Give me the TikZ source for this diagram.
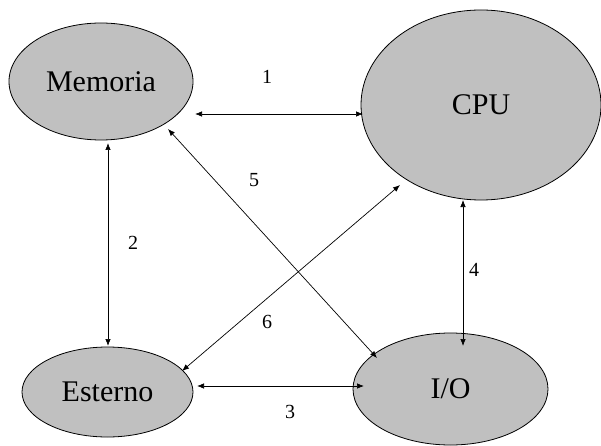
\documentclass[tikz,border=0pt]{standalone}
\usepackage{fontspec}
\setmainfont{Liberation Serif}
\usetikzlibrary{shapes.geometric,arrows.meta}
\definecolor{unitfill}{HTML}{C0C0C0}
\begin{document}
\begin{tikzpicture}[x=1pt,y=-1pt,
  unit/.style={ellipse,draw=black,line width=0.8pt,fill=unitfill,inner sep=0pt,
    font=\fontsize{30}{30}\selectfont},
  link/.style={line width=0.7pt,{Latex[length=7pt,width=5.5pt]}-{Latex[length=7pt,width=5.5pt]}},
  tag/.style={font=\fontsize{20}{20}\selectfont,inner sep=0pt}]
\useasboundingbox (0,0) rectangle (601,446);
% the four units
\node[unit,minimum width=184pt,minimum height=117pt] (mem) at (101,81.5) {Memoria};
\node[unit,minimum width=240pt,minimum height=190pt] (cpu) at (481,105) {CPU};
\node[unit,minimum width=171pt,minimum height=90pt] (est) at (107.5,392) {Esterno};
\node[unit,minimum width=195pt,minimum height=112pt] (io) at (450.5,389) {I/O};
% connections between units
\draw[link] ([shift={(94,32.5)}]mem.center) -- ([shift={(-118,9)}]cpu.center);
\draw[link] ([shift={(7,61.5)}]mem.center) -- ([shift={(0.5,-46)}]est.center);
\draw[link] ([shift={(89.5,-6)}]est.center) -- ([shift={(-86.5,-3)}]io.center);
\draw[link] ([shift={(-18,95)}]cpu.center) -- ([shift={(12.5,-43)}]io.center);
\draw[link] ([shift={(67,47.5)}]mem.center) -- ([shift={(-73.5,-31)}]io.center);
\draw[link] ([shift={(-81,80)}]cpu.center) -- ([shift={(74.5,-21)}]est.center);
% connection numbers
\node[tag] (n1) at (267,77) {1};
\node[tag] (n2) at (133,243) {2};
\node[tag] (n3) at (290,412) {3};
\node[tag] (n4) at (474,270) {4};
\node[tag] (n5) at (254,180) {5};
\node[tag] (n6) at (267,322) {6};
\end{tikzpicture}
\end{document}
